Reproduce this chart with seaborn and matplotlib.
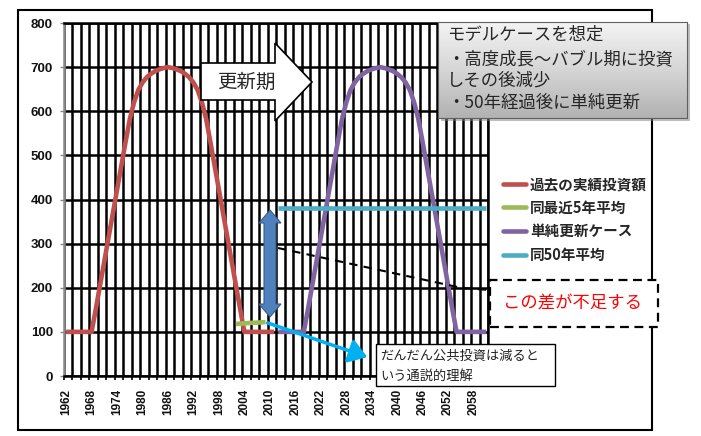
import matplotlib
matplotlib.use("Agg")
import matplotlib.pyplot as plt
import matplotlib.patches as mpatches
from matplotlib.colors import LinearSegmentedColormap
from matplotlib.lines import Line2D
import numpy as np
import pandas as pd
import seaborn as sns

W, H = 701, 436

# data
past_years = list(range(1962, 2012))
past_values = [100, 100, 100, 100, 100, 100, 100,
               152, 206, 260, 314, 368, 422, 476, 530, 582, 620,
               648, 665, 677, 685, 691, 695, 698, 700,
               698, 695, 691, 685, 677, 665, 648, 620,
               582, 530, 476, 422, 368, 314, 260, 206, 152,
               100, 100, 100, 100, 100, 100, 100, 100]

recent_years = [2002, 2005, 2009]
recent_values = [118, 120, 122]

renew_years = list(range(2012, 2062))
renew_values = [100, 100, 100, 100, 100, 100, 100,
                152, 206, 260, 314, 368, 422, 476, 530, 582, 620,
                648, 665, 677, 685, 691, 695, 698, 700,
                698, 695, 691, 685, 677, 665, 648, 620,
                582, 530, 476, 422, 368, 314, 260, 206, 152,
                100, 100, 100, 100, 100, 100, 100, 100]

avg50_years = [2012, 2061]
avg50_values = [380, 380]

series_names = ["過去の実績投資額", "同最近5年平均", "単純更新ケース", "同50年平均"]
series_colors = ["#c0504d", "#9bbb59", "#8064a2", "#4bacc6"]

y_ticks = list(range(0, 801, 100))
x_tick_years = list(range(1962, 2059, 6))

box_lines = ["モデルケースを想定", "・高度成長～バブル期に投資", "しその後減少", "・50年経過後に単純更新"]
myth_lines = ["だんだん公共投資は減ると", "いう通説的理解"]
gap_text = "この差が不足する"
renew_label = "更新期"

sns.set_theme(style="white")
plt.rcParams["font.family"] = ["Noto Sans CJK JP", "DejaVu Sans"]


def fxy(x, y):
    """pixel position in the 701x436 picture -> figure fraction"""
    return x / W, 1 - y / H


def frect(x0, y0, x1, y1, **kw):
    return mpatches.Rectangle(fxy(x0, y1), (x1 - x0) / W, (y1 - y0) / H,
                              transform=fig.transFigure, **kw)


frames = [
    pd.DataFrame({"year": past_years, "value": past_values, "series": series_names[0]}),
    pd.DataFrame({"year": recent_years, "value": recent_values, "series": series_names[1]}),
    pd.DataFrame({"year": renew_years, "value": renew_values, "series": series_names[2]}),
    pd.DataFrame({"year": avg50_years, "value": avg50_values, "series": series_names[3]}),
]
df = pd.concat(frames, ignore_index=True)

fig = plt.figure(figsize=(W / 100, H / 100), dpi=100, facecolor="white")
ax = fig.add_axes([64 / W, 1 - 376 / H, 424.4 / W, 353 / H])

sns.lineplot(data=df, x="year", y="value", hue="series", hue_order=series_names,
             palette=dict(zip(series_names, series_colors)), linewidth=3.3,
             estimator=None, legend=False, ax=ax, solid_capstyle="butt")

ax.set_xlim(1961.5, 2061.5)
ax.set_ylim(0, 800)
ax.set_yticks(y_ticks)
ax.set_xticks(x_tick_years)
ax.set_xticklabels([str(y) for y in x_tick_years], rotation=90)
ax.set_xticks(np.arange(1961.5, 2062, 2), minor=True)
ax.set_xlabel("")
ax.set_ylabel("")
ax.set_axisbelow(True)
ax.grid(axis="y", which="major", color="black", lw=1.8)
ax.grid(axis="x", which="minor", color="black", lw=1.8)
ax.grid(axis="x", which="major", visible=False)
ax.tick_params(axis="y", which="major", left=True, length=3, width=1, color="#888888",
               pad=5, labelsize=9.5)
ax.tick_params(axis="x", which="major", bottom=False, length=0, pad=9, labelsize=8.5)
ax.tick_params(axis="x", which="minor", bottom=True, length=3, width=1.2, color="black")
for lbl in ax.get_xticklabels() + ax.get_yticklabels():
    lbl.set_fontweight("bold")
    lbl.set_family(["Liberation Sans"])
    lbl.set_color("#111111")
for side in ["top", "bottom", "right"]:
    ax.spines[side].set_color("black")
    ax.spines[side].set_linewidth(1.8)
ax.spines["left"].set_color("#888888")
ax.spines["left"].set_linewidth(1.8)

# outer chart frame
fig.add_artist(frect(18, 10, 652, 430, fill=False, edgecolor="black", lw=1.5, zorder=4))

# legend
handles = [Line2D([0], [0], color=c, lw=3.3) for c in series_colors]
fig.legend(handles, series_names, loc="upper left", bbox_to_anchor=fxy(503, 176),
           frameon=False, prop={"weight": "bold", "size": 10.5}, handlelength=1.6,
           handletextpad=0.25, labelspacing=0.52, borderpad=0, borderaxespad=0)

# 更新期 block arrow
arrow_px = [(201, 63), (275, 63), (275, 43), (312, 82), (275, 121), (275, 100), (201, 100)]
fig.add_artist(mpatches.Polygon([fxy(*p) for p in arrow_px], closed=True,
                                transform=fig.transFigure, facecolor="white",
                                edgecolor="black", lw=1.2, zorder=5))
fig.text(*fxy(246, 82), renew_label, ha="center", va="center", fontsize=14, zorder=6)

# blue double arrow showing the gap
darrow_px = [(270, 210), (281, 223), (276, 223), (276, 304), (281, 304), (270, 317),
             (259, 304), (264, 304), (264, 223), (259, 223)]
fig.add_artist(mpatches.Polygon([fxy(*p) for p in darrow_px], closed=True,
                                transform=fig.transFigure, facecolor="#4f81bd",
                                edgecolor="#385d8a", lw=0.8, zorder=5))

# dashed leader line to the callout
lx, ly = zip(*[fxy(278, 248), fxy(462, 288), fxy(490, 290)])
fig.add_artist(Line2D(lx, ly, transform=fig.transFigure, color="black", lw=1.5,
                      ls=(0, (4, 3)), zorder=5))

# cyan arrow to the "common belief" note
fig.add_artist(mpatches.FancyArrowPatch(fxy(265, 322), fxy(370, 358), transform=fig.transFigure,
                                        arrowstyle="-|>,head_length=0.6,head_width=0.4",
                                        mutation_scale=18, color="#00b0f0", lw=2.5, zorder=5))

fig.add_artist(frect(376, 344, 555, 386, facecolor="white", edgecolor="black", lw=1, zorder=6))
for i, line in enumerate(myth_lines):
    fig.text(*fxy(380, 356 + 20 * i), line, ha="left", va="center", fontsize=9.5,
             color="#222222", zorder=7)

# dashed callout box
fig.add_artist(frect(490, 280, 658, 327, facecolor="white", edgecolor="black", lw=1.6,
                     ls=(0, (4, 2.5)), zorder=6))
fig.text(*fxy(573, 304), gap_text, ha="center", va="center", fontsize=12.5,
         color="#ff0000", zorder=7)

# gray gradient note box with shadow
fig.add_artist(frect(441, 24, 690, 121, facecolor="#808080", alpha=0.5, lw=0, zorder=5.5))
bax = fig.add_axes([438 / W, 1 - 118 / H, (687 - 438) / W, (118 - 21.7) / H], zorder=6)
grad_cmap = LinearSegmentedColormap.from_list("gray_grad", ["#f4f4f4", "#d6d6d6", "#b2b2b2"])
bax.imshow(np.linspace(0, 1, 100)[:, None], aspect="auto", cmap=grad_cmap, extent=[0, 1, 0, 1])
bax.set_xticks([])
bax.set_yticks([])
for sp in bax.spines.values():
    sp.set_color("#606060")
    sp.set_linewidth(0.8)
for line, yy in zip(box_lines, [35, 59, 80, 103]):
    fig.text(*fxy(447, yy), line, ha="left", va="center", fontsize=12.5, zorder=7)

fig.savefig("out.png", dpi=100, facecolor="white")
plt.close(fig)
